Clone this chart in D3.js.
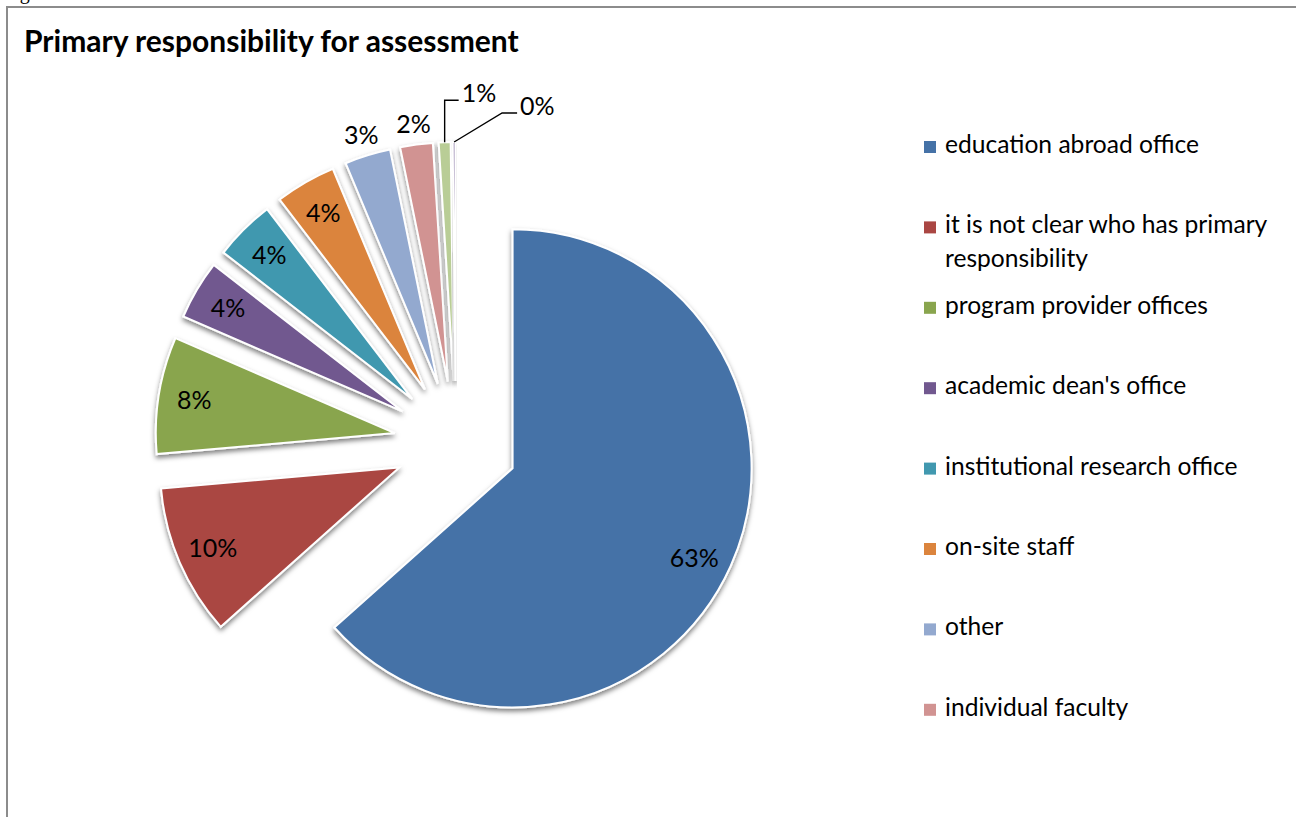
<!DOCTYPE html>
<html>
<head>
<meta charset="utf-8">
<script src="https://cdn.jsdelivr.net/npm/d3@7/dist/d3.min.js"></script>
<style>
  html, body { margin: 0; padding: 0; background: #fff; }
  svg { display: block; }
  text { font-family: Lato, "Open Sans", sans-serif; fill: #000; }
</style>
</head>
<body>
<svg id="chart" width="1296" height="817"></svg>
<script>
// ---- data ----
const chartTitle = "Primary responsibility for assessment";
const categories = [
  "education abroad office",
  "it is not clear who has primary responsibility",
  "program provider offices",
  "academic dean's office",
  "institutional research office",
  "on-site staff",
  "other",
  "individual faculty",
  "faculty committee",
  "student affairs"
];
const shares = [63.4, 10.2, 7.9, 4.0, 4.1, 4.1, 3.1, 2.2, 0.8, 0.2];
const colors = ["#4572A7", "#AA4643", "#89A54E", "#71588F", "#4198AF",
                "#DB843D", "#93A9CF", "#D19392", "#B9CD96", "#A99BBD"];
// legend wraps long entries onto two lines
const legendLines = [
  ["education abroad office"],
  ["it is not clear who has primary", "responsibility"],
  ["program provider offices"],
  ["academic dean's office"],
  ["institutional research office"],
  ["on-site staff"],
  ["other"],
  ["individual faculty"]
];

// ---- layout ----
const W = 1296, H = 817;
const cx = 456, cy = 443, R = 239, explode = 62;
const labelSize = 25, legendSize = 24.6;
const svg = d3.select("#chart");

const defs = svg.append("defs");
const shadow = defs.append("filter").attr("id", "sliceShadow")
  .attr("x", "-20%").attr("y", "-20%").attr("width", "140%").attr("height", "140%");
shadow.append("feDropShadow")
  .attr("dx", 0).attr("dy", 3).attr("stdDeviation", 2.8)
  .attr("flood-color", "#000").attr("flood-opacity", 0.5);

// caption fragment above the frame
svg.append("text").attr("x", 3).attr("y", -1.5)
  .style("font-family", "'Liberation Serif', serif").style("font-size", "20px")
  .text("Figure");

// chart frame
svg.append("path")
  .attr("d", `M7,${H + 10} L7,7 L${W + 10},7`)
  .attr("fill", "none").attr("stroke", "#8c8c8c").attr("stroke-width", 2);

// title
svg.append("text")
  .attr("x", 24).attr("y", 52)
  .style("font-weight", "bold").style("font-size", "30px")
  .text(chartTitle);

// ---- pie ----
const total = d3.sum(shares);
const pct = d3.format(".0%");
const pie = d3.pie().sort(null).value(d => d).startAngle(0).endAngle(2 * Math.PI);
const arcs = pie(shares);
const arc = d3.arc().innerRadius(0).outerRadius(R);
const unit = a => [Math.sin(a), -Math.cos(a)];
const mid = d => (d.startAngle + d.endAngle) / 2;

const slices = svg.append("g").attr("class", "slices");
slices.selectAll("path")
  .data(arcs)
  .join("path")
  .attr("transform", d => {
    const [ux, uy] = unit(mid(d));
    return `translate(${cx + explode * ux},${cy + explode * uy})`;
  })
  .attr("d", arc)
  .attr("fill", (d, i) => colors[i])
  .attr("stroke", "#fff")
  .attr("stroke-width", 2)
  .attr("stroke-linejoin", "miter")
  .attr("filter", "url(#sliceShadow)");

// ---- data labels ----
// leader-line elbows for the tiniest slices, relative to the slice's outer edge
const leaderOffsets = { 8: [[0, -42], [14, 0]], 9: [[48, -29], [15, 0]] };
const labels = svg.append("g").attr("class", "labels");
arcs.forEach((d, i) => {
  const frac = d.value / total;
  const a = mid(d);
  const [ux, uy] = unit(a);
  const ox = cx + explode * ux, oy = cy + explode * uy;
  const text = pct(frac);
  if (leaderOffsets[i]) {
    const sx = ox + R * ux, sy = oy + R * uy;
    const [e1, e2] = leaderOffsets[i];
    const px = sx + e1[0], py = sy + e1[1];
    const qx = px + e2[0], qy = py + e2[1];
    labels.append("path")
      .attr("d", `M${sx},${sy} L${px},${py} L${qx},${qy}`)
      .attr("fill", "none").attr("stroke", "#000").attr("stroke-width", 1.4);
    labels.append("text")
      .attr("x", qx + 3).attr("y", qy + 1.5)
      .style("font-size", labelSize + "px")
      .text(text);
  } else {
    // large slices: label inside near the rim, slightly past the bisector
    const dist = frac >= 0.035 ? 203 : R + 21;
    const la = frac > 0.5 ? a + 0.04 : a;
    const [lx, ly] = unit(la);
    labels.append("text")
      .attr("x", ox + dist * lx).attr("y", oy + dist * ly)
      .attr("text-anchor", "middle").attr("dy", "0.35em")
      .style("font-size", labelSize + "px")
      .text(text);
  }
});

// ---- legend ----
const legend = svg.append("g").attr("class", "legend")
  .attr("transform", "translate(924,153)");
const item = legend.selectAll("g")
  .data(legendLines)
  .join("g")
  .attr("transform", (d, i) => `translate(0,${i * 80.4})`);
item.append("rect")
  .attr("x", 0).attr("y", -12).attr("width", 12).attr("height", 12)
  .attr("fill", (d, i) => colors[i]);
item.append("text")
  .attr("x", 21).attr("y", 0)
  .style("font-size", legendSize + "px")
  .selectAll("tspan")
  .data(d => d)
  .join("tspan")
  .attr("x", 21)
  .attr("dy", (d, j) => j === 0 ? 0 : 33.4)
  .text(d => d);
</script>
</body>
</html>
